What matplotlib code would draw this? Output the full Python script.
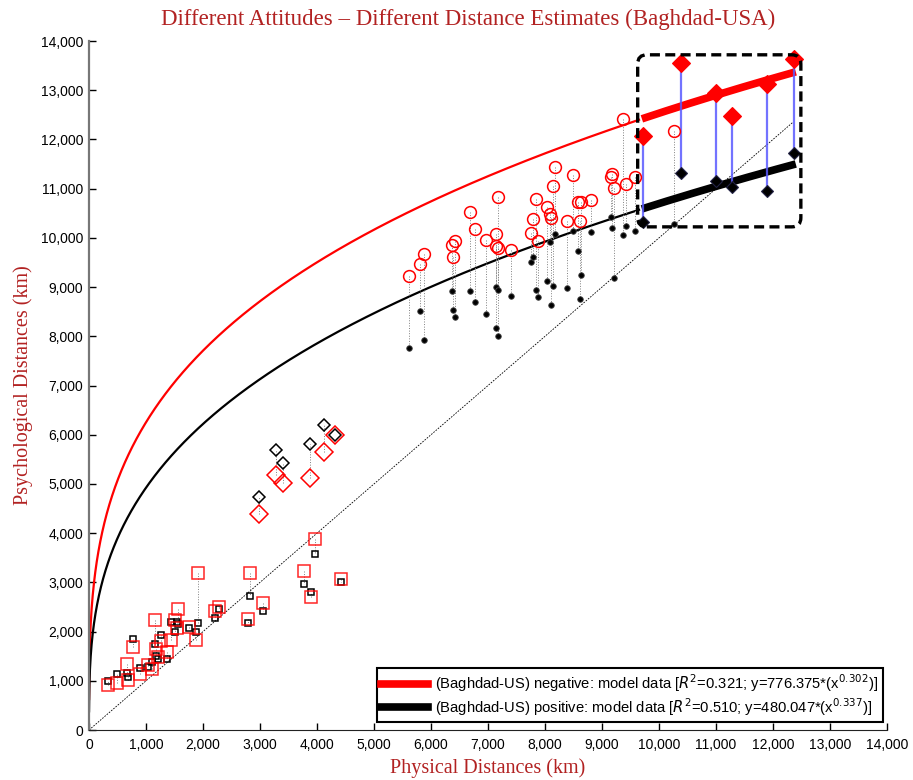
import numpy as np
import matplotlib.pyplot as plt
from matplotlib.patches import FancyBboxPatch
from matplotlib.lines import Line2D
from matplotlib.ticker import FuncFormatter, MultipleLocator

# model parameters (from the legend)
neg_a, neg_b = 776.375, 0.302
pos_a, pos_b = 480.047, 0.337

# squares: short distances (km)
sq_x = [334, 486, 670, 685, 773, 890, 1036, 1101, 1150, 1183, 1210, 1265, 1364, 1435,
        1516, 1546, 1558, 1757, 1874, 1915, 2219, 2284, 2798, 2816, 3051, 3777, 3887,
        3961, 4414]
sq_neg = [909, 949, 1348, 1023, 1694, 1145, 1321, 1240, 2236, 1640, 1491, 1816, 1579, 1836,
          2236, 2067, 2459, 2094, 1823, 3197, 2419, 2500, 2250, 3197, 2575, 3226, 2709,
          3882, 3075]
sq_pos = [990, 1138, 1152, 1071, 1850, 1260, 1274, 1388, 1742, 1510, 1443, 1937, 1449, 2189,
          1992, 2201, 2154, 2073, 1998, 2168, 2276, 2453, 2181, 2730, 2419, 2961, 2799,
          3577, 3008]

# open diamonds: middle distances
dm_x = [2974, 3279, 3396, 3882, 4122, 4321]
dm_neg = [4384, 5183, 5027, 5129, 5657, 6003]
dm_pos = [4729, 5685, 5420, 5813, 6206, 5996]

# circles: long distances
ci_x = [5609, 5802, 5879, 6364, 6394, 6429, 6692, 6775, 6968, 7137, 7137, 7172, 7172,
        7401, 7752, 7787, 7846, 7881, 8039, 8092, 8103, 8138, 8168, 8391, 8490, 8572,
        8625, 8619, 8812, 9152, 9181, 9210, 9374, 9421, 9579, 10264]
ci_neg = [9228, 9478, 9675, 9851, 9607, 9939, 10522, 10176, 9953, 10088, 9844, 9797, 10827,
          9756, 10095, 10380, 10786, 9933, 10623, 10482, 10400, 11057, 11450, 10352, 11274,
          10738, 10738, 10352, 10766, 11233, 11301, 11016, 12419, 11091, 11233, 12168]
ci_pos = [7758, 8516, 7920, 8929, 8537, 8394, 8923, 8699, 8449, 8164, 8997, 8015, 8943,
          8828, 9512, 9621, 8950, 8801, 9133, 9919, 8631, 9031, 10075, 8977, 10142, 9743,
          9254, 8766, 10115, 10427, 10210, 9181, 10067, 10244, 10142, 10278]

# filled diamonds: the Baghdad-US highlighted cases
hl_x = [9714, 10393, 10996, 11289, 11897, 12375]
hl_neg = [12073, 13563, 12940, 12470, 13124, 13632]
hl_pos = [10325, 11321, 11165, 11037, 10962, 11720]

title_color = "#b22222"

fig = plt.figure(figsize=(9.13, 7.8), dpi=100)
ax = fig.add_axes([0.0975, 0.0641, 0.874, 0.8833])

# y = x reference line
ax.plot([0, 12350], [0, 12350], color="black", lw=0.6, ls=(0, (2, 1.5)), zorder=1)

# model curves
xs_thin = np.linspace(0.5, 9650, 3000)
xs_thick = np.linspace(9700, 12400, 200)
ax.plot(xs_thin, neg_a * xs_thin ** neg_b, color="red", lw=1.6, zorder=2)
ax.plot(xs_thin, pos_a * xs_thin ** pos_b, color="black", lw=1.6, zorder=2)
ax.plot(xs_thick, neg_a * xs_thick ** neg_b, color="red", lw=5.5, solid_capstyle="butt", zorder=3)
ax.plot(xs_thick, pos_a * xs_thick ** pos_b, color="black", lw=5.5, solid_capstyle="butt", zorder=3)

# connectors
for xs, ya, yb in [(sq_x, sq_neg, sq_pos), (dm_x, dm_neg, dm_pos), (ci_x, ci_neg, ci_pos)]:
    for x, a, b in zip(xs, ya, yb):
        ax.plot([x, x], [a, b], color="gray", lw=0.7, ls=":", zorder=2)
for x, a, b in zip(hl_x, hl_neg, hl_pos):
    ax.plot([x, x], [a, b], color="#5a5aff", lw=1.6, alpha=0.85, zorder=4)

# markers
ax.plot(sq_x, sq_pos, ls="none", marker="s", ms=4.5, mfc="none", mec="black", mew=1.1, zorder=5)
ax.plot(sq_x, sq_neg, ls="none", marker="s", ms=8, mfc="none", mec="red", mew=1.1, alpha=0.85, zorder=5)
ax.plot(dm_x, dm_pos, ls="none", marker="D", ms=6, mfc="none", mec="black", mew=1.1, zorder=5)
ax.plot(dm_x, dm_neg, ls="none", marker="D", ms=9, mfc="none", mec="red", mew=1.1, zorder=5)
ax.plot(ci_x, ci_pos, ls="none", marker="o", ms=4, mfc="black", mec="#444444", mew=0.6, zorder=5)
ax.plot(ci_x, ci_neg, ls="none", marker="o", ms=8.5, mfc="none", mec="red", mew=1.1, zorder=5)
ax.plot(hl_x, hl_pos, ls="none", marker="D", ms=6, mfc="black", mec="#222244", mew=0.8, zorder=6)
ax.plot(hl_x, hl_neg, ls="none", marker="D", ms=9, mfc="red", mec="red", mew=0.8, zorder=6)

# dashed highlight box
box = FancyBboxPatch((9626, 10224), 2863, 3496,
                     boxstyle="round,pad=0,rounding_size=160",
                     mutation_aspect=1.157, fill=False, ec="black", lw=2.4,
                     ls=(0, (3, 1.6)), zorder=7, clip_on=False)
ax.add_patch(box)

ax.set_xlim(0, 14000)
ax.set_ylim(0, 14000)
ax.xaxis.set_major_locator(MultipleLocator(1000))
ax.yaxis.set_major_locator(MultipleLocator(1000))
fmt = FuncFormatter(lambda v, p: f"{int(v):,}")
ax.xaxis.set_major_formatter(fmt)
ax.yaxis.set_major_formatter(fmt)
ax.tick_params(direction="in", length=5, width=1, labelsize=10)
ax.tick_params(axis="x", pad=6)
ax.tick_params(axis="y", pad=4)
for lab in ax.get_xticklabels() + ax.get_yticklabels():
    lab.set_family("Liberation Sans")

ax.spines["top"].set_visible(False)
ax.spines["right"].set_visible(False)
ax.spines["left"].set_color("#777777")
ax.spines["left"].set_linewidth(1.6)
ax.spines["bottom"].set_color("#222222")

fig.text(0.513, 0.975, "Different Attitudes \u2013 Different Distance Estimates (Baghdad-USA)",
         family="Liberation Serif", fontsize=16.5, color=title_color,
         ha="center", va="center")
ax.set_xlabel("Physical Distances (km)", family="Liberation Serif", fontsize=14.5,
              color=title_color, labelpad=4)
ax.set_ylabel("Psychological Distances (km)", family="Liberation Serif", fontsize=14.5,
              color=title_color, labelpad=6)

handles = [Line2D([], [], color="red", lw=5.5),
           Line2D([], [], color="black", lw=5.5)]
labels = [r"(Baghdad-US) negative: model data [$R^2$=0.321; y=776.375*(x$^{0.302}$)]",
          r"(Baghdad-US) positive: model data [$R^2$=0.510; y=480.047*(x$^{0.337}$)]"]
leg = ax.legend(handles, labels, loc="lower right", bbox_to_anchor=(0.995, 0.0116),
                borderaxespad=0, fancybox=False, framealpha=1, edgecolor="black",
                handlelength=3.2, borderpad=0.3, labelspacing=0.15, handletextpad=0.5,
                prop={"family": "Liberation Sans", "size": 10.6})
leg.get_frame().set_linewidth(1.5)
leg.set_zorder(10)

fig.savefig("out.png", dpi=100)
